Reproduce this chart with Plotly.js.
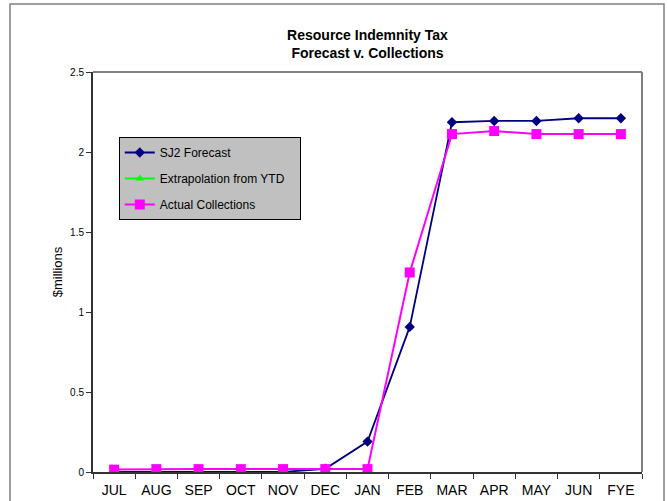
<!DOCTYPE html>
<html>
<head>
<meta charset="utf-8">
<script src="https://cdn.plot.ly/plotly-3.0.1.min.js"></script>
<style>html,body{margin:0;padding:0;background:#fff;}#chart{width:668px;height:501px;}</style>
</head>
<body>
<div id="chart"></div>
<script>
var months = ["JUL","AUG","SEP","OCT","NOV","DEC","JAN","FEB","MAR","APR","MAY","JUN","FYE"];
var forecast = [0.0, 0.0, 0.0, 0.0, 0.0, 0.02, 0.19, 0.907, 2.186, 2.194, 2.194, 2.211, 2.211];
var extrapolation = [null, null, null, null, null, null, null, null, null, null, null, null, null];
var actual = [0.015, 0.018, 0.018, 0.018, 0.018, 0.018, 0.018, 1.247, 2.112, 2.131, 2.112, 2.112, 2.112];
var yTicks = [0, 0.5, 1, 1.5, 2, 2.5];
var yTickText = ["0", "0.5", "1", "1.5", "2", "2.5"];

var font = "Liberation Sans, Arial, sans-serif";
var pad = "\u00a0\u00a0\u00a0";
var traces = [
  {x: months, y: forecast, name: "SJ2 Forecast", type: "scatter", mode: "lines+markers",
   legendgroup: "a", line: {color: "#000080", width: 1.8},
   marker: {symbol: "diamond", size: 8, color: "#000080"}},
  {x: months, y: extrapolation, name: "Extrapolation from YTD" + pad, type: "scatter", mode: "lines+markers",
   legendgroup: "b", line: {color: "#00FF00", width: 1.8},
   marker: {symbol: "triangle-up", size: 8, color: "#00FF00"}},
  {x: months, y: actual, name: "Actual Collections", type: "scatter", mode: "lines+markers",
   legendgroup: "c", line: {color: "#FF00FF", width: 2},
   marker: {symbol: "square", size: 10, color: "#FF00FF"}}
];

var layout = {
  width: 668, height: 501,
  margin: {l: 93, r: 26, t: 72, b: 29, pad: 0},
  paper_bgcolor: "#ffffff", plot_bgcolor: "#ffffff",
  font: {family: font, color: "#000"},
  title: {text: "<b>Resource Indemnity Tax<br>Forecast v. Collections</b>",
          font: {family: font, size: 14, color: "#000"},
          x: 0.5, xref: "paper", y: 0.92, yref: "container", yanchor: "middle"},
  showlegend: true,
  legend: {x: 0.047, y: 0.8375, xanchor: "left", yanchor: "top",
           bgcolor: "#C0C0C0", bordercolor: "#000", borderwidth: 1,
           font: {family: font, size: 12, color: "#000"},
           tracegroupgap: 7, traceorder: "grouped"},
  xaxis: {type: "category", tickson: "boundaries", ticks: "outside", ticklen: 5,
          tickcolor: "#333", showline: true, linecolor: "#333", linewidth: 2,
          showgrid: false, zeroline: false, fixedrange: true,
          range: [-0.5, 12.5], ticklabelstandoff: 4,
          tickfont: {family: font, size: 14, color: "#000"}},
  yaxis: {range: [0, 2.5], tickvals: yTicks, ticktext: yTickText,
          ticks: "outside", ticklen: 5, tickcolor: "#333",
          showline: true, linecolor: "#333", linewidth: 2,
          showgrid: false, zeroline: false,
          tickfont: {family: font, size: 10, color: "#000"},
          title: {text: "$millions", font: {family: font, size: 13, color: "#000"}, standoff: 5}},
  shapes: [
    {type: "line", xref: "paper", yref: "paper", x0: 0, x1: 1, y0: 1, y1: 1,
     line: {color: "#808080", width: 2}},
    {type: "line", xref: "paper", yref: "paper", x0: 1, x1: 1, y0: 0, y1: 1,
     line: {color: "#808080", width: 2}},
    {type: "rect", xref: "paper", yref: "paper", x0: -0.1512, x1: 1.0401, y0: -0.2, y1: 1.17,
     line: {color: "#808080", width: 1.5}, fillcolor: "rgba(0,0,0,0)"}
  ]
};

Plotly.newPlot("chart", traces, layout, {displayModeBar: false, staticPlot: true});
</script>
</body>
</html>
